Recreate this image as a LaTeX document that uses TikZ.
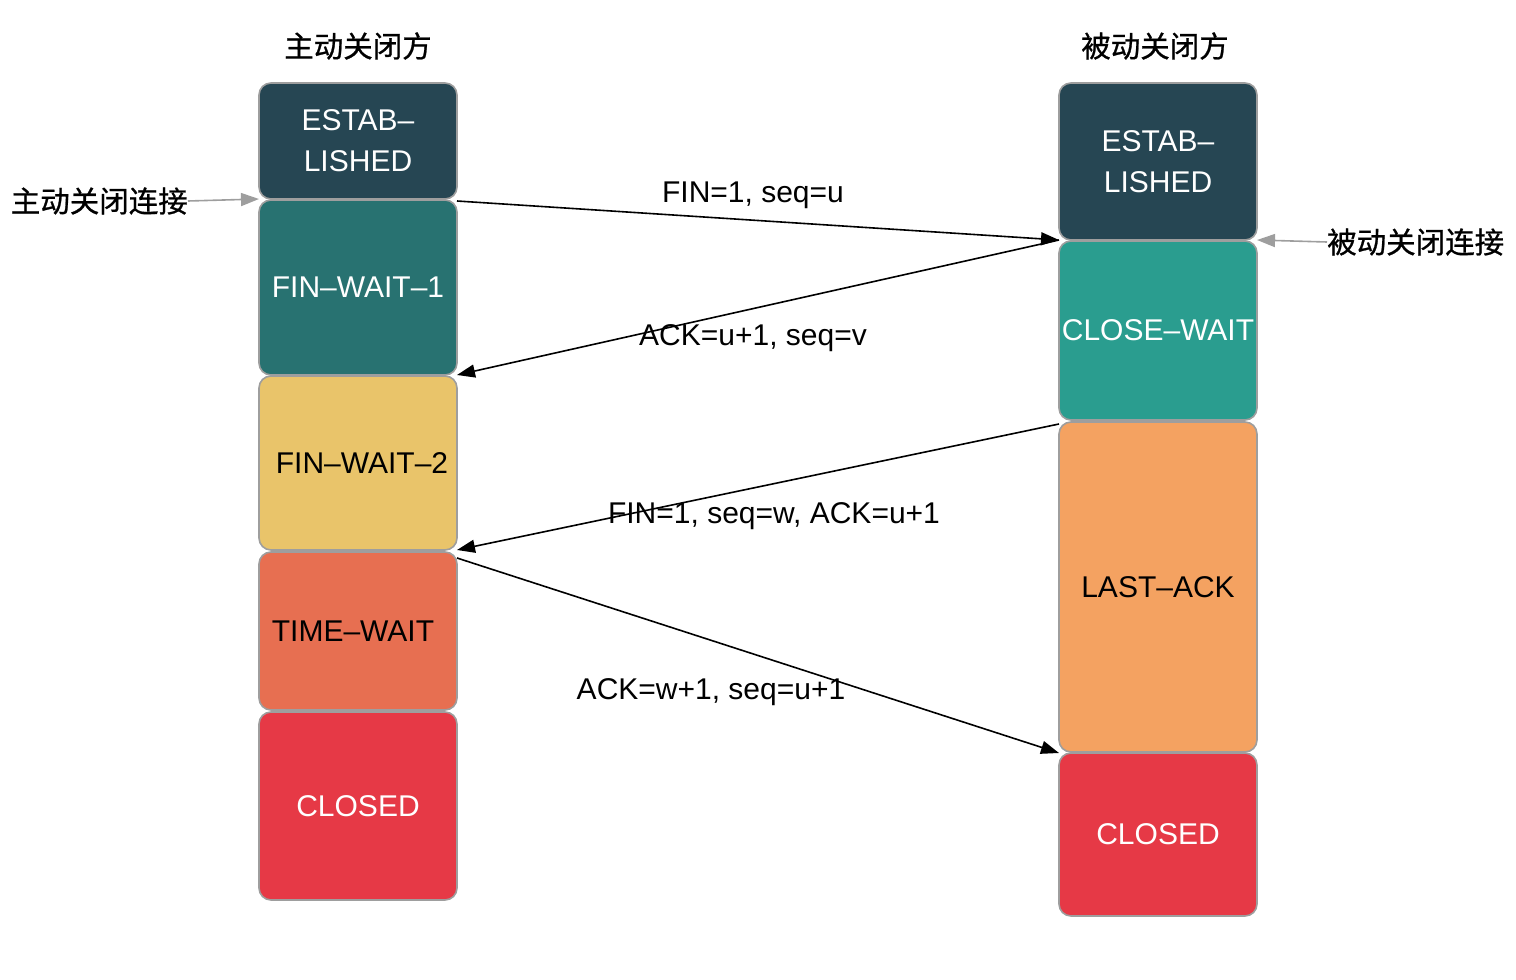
\documentclass[tikz,border=0pt]{standalone}
\usepackage{fontspec}
\setmainfont{Liberation Sans}
\newfontfamily\cjk[FakeBold=0.8]{Noto Sans CJK SC}
\usetikzlibrary{arrows.meta}
\definecolor{cEst}{HTML}{264653}
\definecolor{cFw1}{HTML}{287271}
\definecolor{cFw2}{HTML}{E9C46A}
\definecolor{cTw}{HTML}{E76F51}
\definecolor{cCl}{HTML}{E63946}
\definecolor{cCw}{HTML}{2A9D8F}
\definecolor{cLa}{HTML}{F4A261}
\definecolor{cBorder}{HTML}{9E9E9E}
\tikzset{
  statebox/.style={draw=cBorder, line width=1.6pt, rounded corners=12pt,
    minimum width=198pt, inner sep=0pt, outer sep=0pt, align=center,
    font=\fontsize{30}{41}\selectfont},
  msg/.style={draw=black, line width=1.6pt, -{Triangle[length=18pt,width=13pt]}},
  msglabel/.style={font=\fontsize{30}{35}\selectfont, inner sep=0pt},
  side/.style={draw=cBorder, line width=1.6pt, -{Triangle[length=18pt,width=13pt]}},
  cjklabel/.style={font=\cjk\fontsize{29.5}{35}\selectfont, inner sep=0pt}
}
\begin{document}
\begin{tikzpicture}[x=1pt, y=-1pt]
\useasboundingbox (0,0) rectangle (1516,980);

% left column
\node[statebox, fill=cEst, text=white, minimum height=116pt] (le) at (358,141) {\raisebox{-3pt}{ESTAB–}\\\raisebox{-3pt}{LISHED}};
\node[statebox, fill=cFw1, text=white, minimum height=175pt] (fw1) at (358,287.5) {\raisebox{-3pt}{FIN–WAIT–1}};
\node[statebox, fill=cFw2, text=black, minimum height=174pt] (fw2) at (358,463) {\hspace*{8pt}FIN–WAIT–2};
\node[statebox, fill=cTw, text=black, minimum height=158pt] (tw) at (358,631) {\raisebox{-3pt}{TIME–WAIT}\hspace*{10pt}};
\node[statebox, fill=cCl, text=white, minimum height=188pt] (lc) at (358,806) {\raisebox{-2pt}{CLOSED}};

% right column
\node[statebox, fill=cEst, text=white, minimum height=157pt] (re) at (1158,161.5) {\raisebox{-2pt}{ESTAB–}\\\raisebox{-2pt}{LISHED}};
\node[statebox, fill=cCw, text=white, minimum height=179pt] (cw) at (1158,330.5) {CLOSE–WAIT};
\node[statebox, fill=cLa, text=black, minimum height=330pt] (la) at (1158,587) {\raisebox{-5pt}{LAST–ACK}};
\node[statebox, fill=cCl, text=white, minimum height=163pt] (rc) at (1158,834.5) {CLOSED};

% headings
\node[cjklabel] (hl) at (358,46) {主动关闭方};
\node[cjklabel] (hr) at (1155,46) {被动关闭方};

% side labels
\node[cjklabel, anchor=east] (al) at (188,201) {主动关闭连接};
\node[cjklabel, anchor=west] (pl) at (1327,242) {被动关闭连接};
\draw[side] (al.east) -- (le.south west);
\draw[side] (pl.west) -- (re.south east);

% messages
\coordinate (m1s) at ([yshift=-2pt]le.south east);
\draw[msg] (m1s) -- (re.south west);
\draw[msg] (re.south west) -- (fw1.south east);
\coordinate (m3s) at ([yshift=-4pt]cw.south west);
\draw[msg] (m3s) -- (fw2.south east);
\coordinate (m4s) at ([yshift=-6pt]tw.north east);
\draw[msg] (m4s) -- (rc.north west);

% message labels
\node[msglabel] (t1) at (753,195) {FIN=1, seq=u};
\node[msglabel] (t2) at (753,338) {ACK=u+1, seq=v};
\node[msglabel] (t3) at (774,516) {FIN=1, seq=w, ACK=u+1};
\node[msglabel] (t4) at (711,692) {ACK=w+1, seq=u+1};
\end{tikzpicture}
\end{document}
